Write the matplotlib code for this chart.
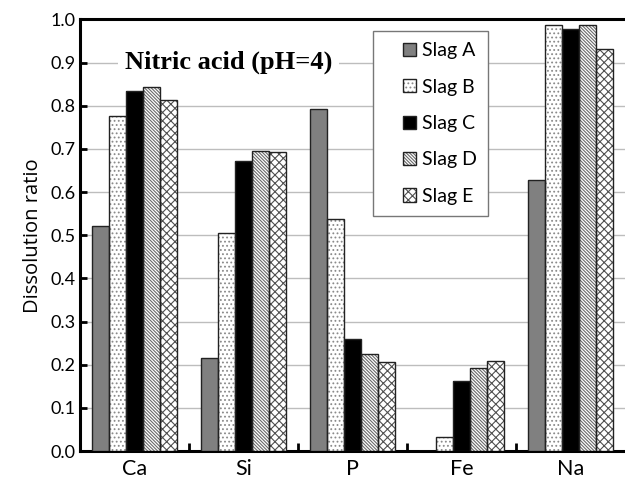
import numpy as np
import matplotlib.pyplot as plt
from matplotlib.patches import Rectangle
from matplotlib.legend_handler import HandlerPatch

# Dissolution ratios of each element for the five slags in nitric acid (pH=4)
elements = ['Ca', 'Si', 'P', 'Fe', 'Na']
slag_names = ['Slag A', 'Slag B', 'Slag C', 'Slag D', 'Slag E']
slag_a = [0.521, 0.215, 0.792, 0.0, 0.629]
slag_b = [0.775, 0.505, 0.537, 0.032, 0.988]
slag_c = [0.833, 0.673, 0.259, 0.162, 0.977]
slag_d = [0.843, 0.694, 0.224, 0.192, 0.988]
slag_e = [0.812, 0.692, 0.206, 0.209, 0.931]
y_ticks = [0.0, 0.1, 0.2, 0.3, 0.4, 0.5, 0.6, 0.7, 0.8, 0.9, 1.0]

series = [slag_a, slag_b, slag_c, slag_d, slag_e]
fills = ['#808080', 'white', 'black', 'white', 'white']
hatches = [None, '....', None, '\\' * 10, 'xxxx']
hatch_colors = ['#808080', '#8a8a8a', 'black', '#6a6a6a', '#505050']

plt.rcParams['font.family'] = ['Lato', 'DejaVu Sans']
plt.rcParams['hatch.linewidth'] = 0.8


def square_handle(legend, orig_handle, xdescent, ydescent, width, height, fontsize):
    # small square pushed to the right end of the handle box
    s = 0.68 * fontsize
    return Rectangle((width - xdescent - s, -ydescent + (height - s) / 2), s, s)


fig = plt.figure(figsize=(6.25, 4.83), dpi=100)
ax = fig.add_axes([0.128, 0.066, 0.872, 0.894])

x = np.arange(len(elements))
width = 0.157
handles = []
for i, vals in enumerate(series):
    pos = x + (i - 2) * width
    body = ax.bar(pos, vals, width, color=fills[i], hatch=hatches[i],
                  edgecolor=hatch_colors[i], linewidth=0, zorder=3)
    edge = ax.bar(pos, vals, width, fill=False, edgecolor='#222222',
                  linewidth=1.0, zorder=3.5)
    handles.append((body.patches[0], edge.patches[0]))

ax.set_xlim(-0.5, 4.5)
ax.set_ylim(0, 1.0)
ax.set_yticks(y_ticks)
ax.set_yticklabels(['%.1f' % t for t in y_ticks], fontsize=13)
ax.set_xticks(x)
ax.set_xticklabels(elements, fontsize=15.5)
ax.set_xticks(np.arange(0.5, 4.5, 1.0), minor=True)
ax.tick_params(axis='x', which='major', length=0, pad=6)
ax.tick_params(axis='x', which='minor', direction='in', length=6, width=2)
ax.tick_params(axis='y', direction='in', length=5, width=2)
ax.set_ylabel('Dissolution ratio', fontsize=14.5, family='Open Sans', labelpad=5)

ax.yaxis.grid(True, color='#bdbdbd', linewidth=1.0, zorder=0)
ax.set_axisbelow(True)
for side in ['left', 'bottom', 'top']:
    ax.spines[side].set_linewidth(2.2)
ax.spines['right'].set_visible(False)

ax.text(0.86, 0.9, 'Nitric acid (pH=4)', fontsize=19, fontweight='bold',
        family='Liberation Serif', ha='center', va='center', zorder=4,
        bbox=dict(facecolor='white', edgecolor='none', pad=5))

leg = ax.legend(handles, slag_names, loc='upper left',
                bbox_to_anchor=(0.538, 0.972), fontsize=14,
                handler_map={Rectangle: HandlerPatch(patch_func=square_handle)},
                fancybox=False, edgecolor='#777777', framealpha=1,
                handlelength=1.67, handleheight=0.7, handletextpad=0.3,
                labelspacing=1.0, borderpad=0.55, borderaxespad=0)
leg.get_frame().set_linewidth(1.0)
leg.set_zorder(5)

fig.savefig('out.png', dpi=100)
